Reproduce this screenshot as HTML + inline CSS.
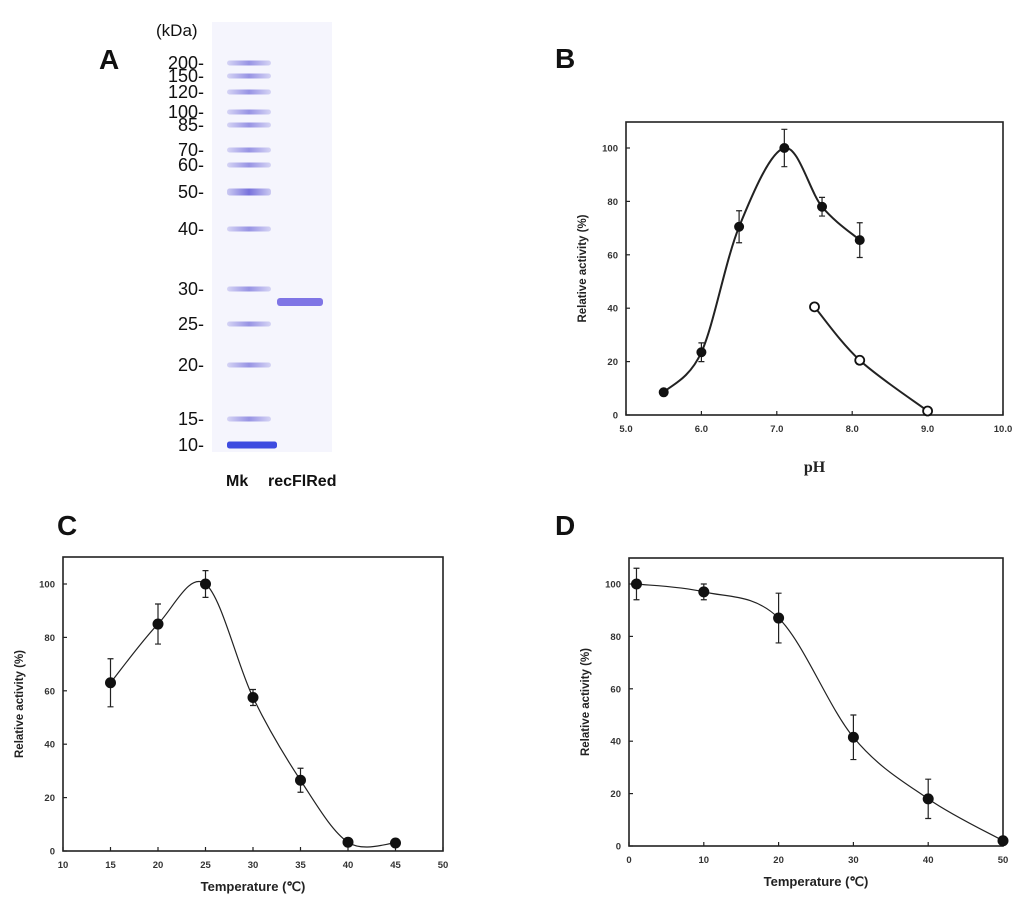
<!DOCTYPE html>
<html><head><meta charset="utf-8"><style>
body{margin:0;background:#fff;}
svg{display:block;font-family:"Liberation Sans",Arial,sans-serif;}
</style></head><body>
<svg id="fig" width="1024" height="902" viewBox="0 0 1024 902">
<text x="99" y="69" font-size="28" font-weight="bold" fill="#111">A</text>
<g id="gel"></g>
<g id="pB"></g>
<g id="pC"></g>
<g id="pD"></g>
</svg>
<script>
const markerLabels=["200","150","120","100","85","70","60","50","40","30","25","20","15","10"];
const markerY=[63,76,92,112,125,150,165,192,229,289,324,365,419,445];
const phX=[5.5,6.0,6.5,7.1,7.6,8.1];
const phY=[8.5,23.5,70.5,100,78,65.5];
const phErr=[0,3.5,6,7,3.5,6.5];
const ph2X=[7.5,8.1,9.0];
const ph2Y=[40.5,20.5,1.5];
const phTicks=[5,6,7,8,9,10];
const tempX=[15,20,25,30,35,40,45];
const tempY=[63,85,100,57.5,26.5,3.3,3];
const tempErr=[9,7.5,5,3,4.5,0,0];
const tempTicks=[10,15,20,25,30,35,40,45,50];
const stabX=[1,10,20,30,40,50];
const stabY=[100,97,87,41.5,18,2];
const stabErr=[6,3,9.5,8.5,7.5,0];
const stabTicks=[0,10,20,30,40,50];
const yTicks=[0,20,40,60,80,100];

const NS="http://www.w3.org/2000/svg";
function mk(p,tag,attrs,txt){const e=document.createElementNS(NS,tag);for(const k in attrs)e.setAttribute(k,attrs[k]);if(txt!==undefined)e.textContent=txt;p.appendChild(e);return e;}

const gel=document.getElementById('gel');
const defs=mk(gel,'defs',{});
const lg=mk(defs,'linearGradient',{id:'band',x1:0,x2:1});
mk(lg,'stop',{offset:'0','stop-color':'#6a64d8','stop-opacity':'0.3'});
mk(lg,'stop',{offset:'0.5','stop-color':'#6a64d8','stop-opacity':'0.9'});
mk(lg,'stop',{offset:'1','stop-color':'#6a64d8','stop-opacity':'0.3'});
let bg=mk(gel,'rect',{x:212,y:22,width:120,height:430,fill:'#f5f5fd'});

let kd=mk(gel,'text',{x:156,y:36,'font-size':17,fill:'#111'},'(kDa)');

markerLabels.forEach((l,i)=>{
  const t=mk(gel,'text',{x:204,y:markerY[i]+6,'font-size':18,'text-anchor':'end',fill:'#111'},l+'-');
  
  const strong=(l==='50'||l==='10');
  const b=mk(gel,'rect',{x:227,y:markerY[i]-(strong?3.5:2.5),width:l==='10'?50:44,height:strong?7:5,rx:2.5,fill:l==='10'?'#3d4be0':'url(#band)',opacity:strong?1:0.75});
  
});
let sb=mk(gel,'rect',{x:277,y:298,width:46,height:8,rx:3,fill:'#6a5ee0',opacity:0.85});

let mkl=mk(gel,'text',{x:226,y:486,'font-size':16,'font-weight':'bold',fill:'#111'},'Mk');

let rl=mk(gel,'text',{x:268,y:486,'font-size':16,'font-weight':'bold',fill:'#111'},'recFlRed');


function curve(pts){
  let d='M'+pts[0][0]+','+pts[0][1];
  for(let i=0;i<pts.length-1;i++){
    const p0=pts[i-1]||pts[i],p1=pts[i],p2=pts[i+1],p3=pts[i+2]||p2;
    const c1=[p1[0]+(p2[0]-p0[0])/6,p1[1]+(p2[1]-p0[1])/6];
    const c2=[p2[0]-(p3[0]-p1[0])/6,p2[1]-(p3[1]-p1[1])/6];
    d+=' C'+c1+' '+c2+' '+p2;
  }
  return d;
}

function panel(id,letter,lx,ly,box,xmin,xmax,xt,xfmt,series,xlabel,xlabelSerif){
  const g=document.getElementById(id);
  const sx=v=>box.l+(v-xmin)/(xmax-xmin)*(box.r-box.l);
  const sy=v=>box.b-v/100*(box.b-box.y100);
  const L=mk(g,'text',{x:lx,y:ly,'font-size':28,'font-weight':'bold',fill:'#111'},letter);
  
  const fr=mk(g,'rect',{x:box.l,y:box.t,width:box.r-box.l,height:box.b-box.t,fill:'none',stroke:'#222','stroke-width':1.6});
  
  yTicks.forEach(v=>{
    const y=sy(v);
    mk(g,'line',{x1:box.l,x2:box.l+4,y1:y,y2:y,stroke:'#222','stroke-width':1.2});
    const t=mk(g,'text',{x:box.l-8,y:y+3.5,'font-size':9.5,'font-weight':'bold','text-anchor':'end',fill:'#333'},v);
    
  });
  xt.forEach(v=>{
    const x=sx(v);
    mk(g,'line',{x1:x,x2:x,y1:box.b,y2:box.b-4,stroke:'#222','stroke-width':1.2});
    const t=mk(g,'text',{x:x,y:box.b+17,'font-size':9.5,'font-weight':'bold','text-anchor':'middle',fill:'#333'},xfmt(v));
    
  });
  const yc=(box.t+box.b)/2;
  const yl=mk(g,'text',{x:box.l-40,y:yc,'font-size':11.5,'font-weight':'bold','text-anchor':'middle',fill:'#222',transform:'rotate(-90 '+(box.l-40)+' '+yc+')'},'Relative activity (%)');
  
  const xl=mk(g,'text',{x:(box.l+box.r)/2,y:xlabelSerif?box.b+57:box.b+40,'font-size':xlabelSerif?16:13,'font-weight':'bold','text-anchor':'middle',fill:'#222','font-family':xlabelSerif?'"Liberation Serif",serif':'"Liberation Sans",sans-serif'},xlabel);
  
  series.forEach((s,si)=>{
    const pts=s.x.map((v,i)=>[sx(v),sy(s.y[i])]);
    const path=mk(g,'path',{d:curve(pts),fill:'none',stroke:'#222','stroke-width':s.w});
    
    s.x.forEach((v,i)=>{
      const e=s.e?s.e[i]:0;
      if(e>0){
        const x=sx(v),y1=sy(s.y[i]+e),y2=sy(s.y[i]-e);
        const eb=mk(g,'path',{d:`M${x},${y1}V${y2}M${x-3},${y1}H${x+3}M${x-3},${y2}H${x+3}`,stroke:'#222','stroke-width':1.2,fill:'none'});
        
      }
      const c=mk(g,'circle',{cx:sx(v),cy:sy(s.y[i]),r:s.r,fill:s.open?'#fff':'#111',stroke:'#111','stroke-width':s.open?1.8:1});
      
    });
  });
}
panel('pB','B',555,68,{l:626,r:1003,t:122,b:415,y100:148},5,10,phTicks,v=>v.toFixed(1),
  [{x:phX,y:phY,e:phErr,r:4.5,w:2},{x:ph2X,y:ph2Y,r:4.5,w:2,open:true}],'pH',true);
panel('pC','C',57,535,{l:63,r:443,t:557,b:851,y100:584},10,50,tempTicks,v=>v,
  [{x:tempX,y:tempY,e:tempErr,r:5,w:1.2}],'Temperature (\u2103)',false);
panel('pD','D',555,535,{l:629,r:1003,t:558,b:846,y100:584},0,50,stabTicks,v=>v,
  [{x:stabX,y:stabY,e:stabErr,r:5,w:1.2}],'Temperature (\u2103)',false);
</script>
</body></html>
